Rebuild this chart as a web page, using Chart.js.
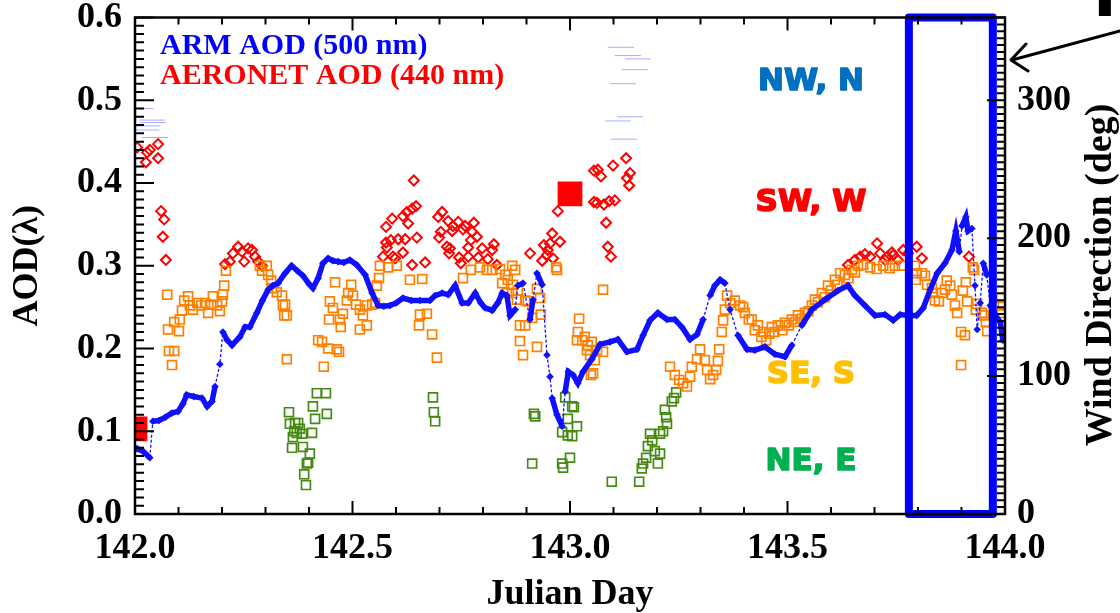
<!DOCTYPE html>
<html>
<head>
<meta charset="utf-8">
<script src="https://cdn.jsdelivr.net/npm/chart.js@4.4.1/dist/chart.umd.min.js"></script>
<style>
  html, body { margin: 0; padding: 0; background: #fff; }
  canvas { display: block; }
</style>
</head>
<body>
<canvas id="c" width="1120" height="613"></canvas>
<script>
// ---- data (Julian day / AOD) ----
const armDay = [142.005,142.018,142.034,142.041,142.055,142.070,142.085,142.099,142.110,142.119,142.135,142.154,142.166,142.177,142.184,142.195,142.202,142.212,142.223,142.241,142.253,142.264,142.280,142.293,142.306,142.317,142.329,142.345,142.360,142.373,142.386,142.400,142.409,142.421,142.432,142.444,142.455,142.467,142.480,142.494,142.510,142.529,142.545,142.559,142.572,142.586,142.600,142.616,142.635,142.655,142.678,142.690,142.706,142.720,142.736,142.752,142.766,142.782,142.795,142.805,142.821,142.834,142.844,142.855,142.862,142.874,142.880,142.892,142.908,142.915,142.924,142.936,142.947,142.954,142.959,142.970,142.982,142.989,142.996,143.007,143.018,143.030,143.050,143.069,143.092,143.110,143.131,143.154,143.168,143.184,143.202,143.223,143.241,143.257,143.276,143.292,143.306,143.322,143.333,143.345,143.356,143.368,143.386,143.407,143.425,143.448,143.471,143.494,143.510,143.533,143.556,143.586,143.616,143.639,143.655,143.678,143.701,143.724,143.743,143.759,143.777,143.797,143.812,143.828,143.844,143.862,143.878,143.887,143.895,143.901,143.910,143.915,143.924,143.931,143.936,143.943,143.950,143.958,143.966,143.978,143.989,143.995];
const armAOD = [0.079,0.076,0.068,0.112,0.113,0.117,0.122,0.124,0.133,0.144,0.142,0.140,0.130,0.136,0.154,0.181,0.220,0.210,0.204,0.214,0.226,0.226,0.243,0.258,0.271,0.276,0.279,0.291,0.300,0.294,0.288,0.278,0.273,0.285,0.303,0.309,0.306,0.305,0.304,0.307,0.301,0.289,0.267,0.252,0.251,0.252,0.255,0.261,0.258,0.258,0.258,0.264,0.267,0.265,0.276,0.255,0.255,0.267,0.255,0.249,0.246,0.255,0.267,0.264,0.240,0.247,0.276,0.279,0.235,0.259,0.291,0.277,0.192,0.166,0.140,0.120,0.106,0.148,0.172,0.168,0.158,0.172,0.187,0.205,0.208,0.211,0.196,0.199,0.216,0.234,0.243,0.235,0.235,0.226,0.211,0.217,0.235,0.264,0.276,0.283,0.279,0.247,0.216,0.199,0.198,0.202,0.193,0.190,0.204,0.228,0.247,0.259,0.270,0.276,0.264,0.252,0.240,0.241,0.234,0.241,0.240,0.240,0.249,0.271,0.291,0.303,0.319,0.342,0.317,0.348,0.359,0.342,0.345,0.276,0.223,0.255,0.303,0.289,0.252,0.240,0.232,0.210];

// faint light-blue dashes near the top
const faintDay = [142.012,142.039,142.041,142.028,142.026,142.046,143.117,143.133,143.156,143.149,143.122,143.138,143.110,143.124];
const faintAOD = [0.490,0.476,0.473,0.469,0.464,0.455,0.564,0.554,0.550,0.537,0.520,0.480,0.475,0.453];

const aeronetDay = [142.005,142.028,142.034,142.025,142.053,142.053,142.060,142.067,142.064,142.071,
  142.207,142.218,142.225,142.237,142.246,142.251,142.260,142.269,142.276,142.283,142.292,
  142.641,142.646,142.637,142.625,142.616,142.628,142.591,142.577,142.588,142.577,142.579,142.605,142.621,142.648,142.616,142.593,142.570,142.598,142.637,142.667,142.697,142.699,
  142.706,142.720,142.731,142.743,142.759,142.779,142.703,142.729,142.754,142.775,142.786,142.772,142.766,142.717,142.724,142.722,142.745,142.766,142.749,142.789,142.798,142.811,142.825,142.821,142.832,
  142.908,142.936,142.940,142.949,142.954,142.947,142.959,142.977,142.961,142.972,
  143.055,143.055,143.064,143.071,143.099,143.129,143.138,143.131,143.136,143.062,143.078,143.090,143.103,143.083,143.087,143.094,
  143.639,143.655,143.667,143.678,143.690,143.706,143.713,143.724,143.740,143.754,143.766,143.729,143.743,143.777,143.797,143.809,143.917];
const aeronetAOD = [0.443,0.437,0.440,0.425,0.447,0.430,0.366,0.356,0.335,0.307,
  0.302,0.305,0.315,0.323,0.317,0.305,0.321,0.319,0.311,0.305,0.300,
  0.403,0.372,0.369,0.365,0.360,0.351,0.357,0.347,0.331,0.328,0.322,0.332,0.332,0.334,0.316,0.311,0.311,0.309,0.301,0.304,0.359,0.334,
  0.365,0.354,0.348,0.353,0.348,0.352,0.341,0.342,0.344,0.341,0.335,0.331,0.322,0.323,0.321,0.315,0.310,0.311,0.303,0.310,0.321,0.308,0.326,0.319,0.301,
  0.315,0.306,0.325,0.319,0.327,0.313,0.339,0.329,0.309,0.366,
  0.415,0.377,0.416,0.408,0.421,0.430,0.412,0.406,0.397,0.376,0.374,0.378,0.379,0.352,0.323,0.311,
  0.301,0.307,0.311,0.314,0.311,0.327,0.315,0.307,0.316,0.307,0.319,0.311,0.313,0.315,0.323,0.309,0.311];

// large filled red squares
const aeronetMeanDay = [142.0, 143.0];
const aeronetMeanAOD = [0.103, 0.387];

// AOD coloured by wind sector
const seDay = [142.074,142.076,142.078,142.090,142.085,142.090,142.101,142.103,142.108,142.113,142.122,142.126,142.133,142.143,142.152,142.161,142.168,142.175,142.179,142.189,142.195,142.200,142.202,142.205,142.209,
  142.287,142.303,142.292,142.306,142.313,142.315,142.326,142.338,142.340,142.343,142.345,142.349,142.349,
  142.460,142.448,142.446,142.455,142.471,142.473,142.478,142.487,142.490,142.497,142.501,142.508,142.517,142.517,142.524,142.533,142.533,142.545,142.552,142.556,142.561,142.563,142.582,142.602,
  142.421,142.430,142.444,142.464,142.469,142.434,142.632,142.660,142.655,142.671,142.653,142.683,142.694,
  142.754,142.772,142.793,142.809,142.821,142.839,142.851,142.867,142.874,142.844,142.857,142.869,142.855,142.867,142.880,142.878,142.897,142.903,142.924,142.931,142.885,142.897,142.913,142.933,142.885,142.892,142.924,142.968,142.970,
  143.021,143.018,143.028,143.016,143.034,143.041,143.039,143.046,143.048,143.076,143.050,143.062,143.076,143.057,143.053,
  143.230,143.241,143.251,143.260,143.269,143.276,143.280,143.292,143.299,143.310,143.315,143.322,143.329,143.336,143.340,143.343,143.349,143.352,143.356,143.361,143.368,143.379,143.391,143.402,143.411,143.398,
  143.418,143.432,143.444,143.451,143.464,143.478,143.494,143.510,143.524,143.540,143.556,143.563,143.579,143.593,143.609,143.621,143.632,143.648,143.662,143.674,143.690,143.747,143.763,
  143.425,143.440,143.458,143.470,143.488,143.503,143.518,143.533,143.548,143.570,143.586,143.600,143.615,143.640,143.655,143.705,143.720,143.735,
  143.793,143.797,143.795,143.809,143.816,143.821,143.832,143.834,143.839,143.848,143.855,143.862,143.866,143.874,143.878,143.885,143.890,143.903,143.910,143.913,143.899,143.908,143.899,143.926,143.929,143.936,143.933,143.947,143.952,143.956,143.959,143.991,143.995,143.993];
const seAOD = [0.265,0.223,0.197,0.197,0.180,0.232,0.221,0.235,0.246,0.258,0.263,0.252,0.247,0.255,0.252,0.255,0.243,0.253,0.263,0.252,0.245,0.257,0.265,0.276,0.294,
  0.300,0.300,0.294,0.289,0.282,0.273,0.268,0.264,0.252,0.240,0.253,0.240,0.187,
  0.280,0.257,0.235,0.249,0.235,0.226,0.242,0.258,0.267,0.277,0.264,0.253,0.247,0.223,0.240,0.228,0.252,0.253,0.255,0.276,0.285,0.300,0.298,0.300,
  0.210,0.208,0.200,0.199,0.196,0.178,0.283,0.284,0.241,0.242,0.228,0.217,0.189,
  0.285,0.295,0.298,0.295,0.295,0.296,0.289,0.300,0.295,0.279,0.283,0.277,0.267,0.267,0.270,0.259,0.258,0.257,0.272,0.261,0.228,0.228,0.237,0.241,0.209,0.192,0.202,0.298,0.295,
  0.236,0.220,0.210,0.210,0.214,0.204,0.198,0.192,0.168,0.271,0.208,0.198,0.196,0.186,0.170,
  0.178,0.168,0.162,0.158,0.154,0.166,0.178,0.187,0.199,0.186,0.174,0.163,0.168,0.174,0.185,0.199,0.220,0.234,0.247,0.264,0.255,0.258,0.252,0.243,0.235,0.250,
  0.235,0.228,0.220,0.210,0.226,0.228,0.231,0.235,0.240,0.243,0.252,0.259,0.267,0.276,0.283,0.291,0.289,0.295,0.300,0.301,0.298,0.300,0.300,
  0.222,0.214,0.218,0.220,0.222,0.228,0.232,0.236,0.245,0.256,0.262,0.270,0.277,0.285,0.292,0.296,0.300,0.297,
  0.300,0.291,0.283,0.291,0.288,0.277,0.273,0.267,0.258,0.257,0.267,0.271,0.282,0.276,0.265,0.252,0.243,0.270,0.280,0.257,0.220,0.216,0.180,0.298,0.295,0.254,0.247,0.243,0.240,0.232,0.221,0.261,0.252,0.243];

const neDay = [142.354,142.356,142.368,142.375,142.366,142.379,142.372,142.363,142.384,142.407,142.361,142.386,142.402,142.398,142.395,142.389,142.393,142.409,142.414,142.418,142.439,142.441,
  142.685,142.687,142.690,142.917,142.920,142.913,142.982,142.989,142.995,143.005,143.009,143.016,142.995,143.005,143.000,142.982,142.984,
  143.096,143.159,143.165,143.168,143.175,143.179,143.184,143.189,143.195,143.202,143.207,143.207,143.214,143.223,143.221,143.218,143.234,143.239,143.244];
const neAOD = [0.123,0.109,0.110,0.110,0.100,0.103,0.098,0.093,0.097,0.098,0.080,0.081,0.073,0.062,0.061,0.048,0.035,0.130,0.115,0.146,0.146,0.121,
  0.141,0.123,0.112,0.121,0.118,0.061,0.099,0.141,0.115,0.130,0.129,0.106,0.095,0.094,0.068,0.061,0.056,
  0.039,0.039,0.055,0.061,0.068,0.082,0.097,0.089,0.076,0.061,0.073,0.097,0.100,0.109,0.117,0.126,0.136,0.140,0.147];

// highlighted period (blue box)
const boxDay = [143.779, 143.972];
const boxAOD = [0.0, 0.6];

// axis ticks
const dayTicks = [142.0, 142.5, 143.0, 143.5, 144.0];
const aodTicks = [0.0, 0.1, 0.2, 0.3, 0.4, 0.5, 0.6];
const windTicks = [0, 100, 200, 300];
const sectorLabels = ['NW, N', 'SW, W', 'SE, S', 'NE, E'];

const zip = (xs, ys) => xs.map((x, i) => ({ x: x, y: ys[i] }));

const serif = "'Liberation Serif', 'Times New Roman', serif";
const tickFont = { family: serif, size: 36, weight: 'bold', lineHeight: 1 };

const gapPx = c => Math.hypot(c.p1.x - c.p0.x, c.p1.y - c.p0.y);

const decor = {
  id: 'decor',
  afterDraw(chart) {
    const { ctx, chartArea: a, scales } = chart;
    const xs = scales.x, ys = scales.y, y2 = scales.y2;
    ctx.save();
    ctx.strokeStyle = '#000';
    ctx.lineWidth = 2.5;
    ctx.strokeRect(a.left, a.top, a.right - a.left, a.bottom - a.top);

    ctx.lineWidth = 2;
    ctx.beginPath();
    // x minor ticks every 0.1 day, inward on bottom and top
    for (let i = 0; i <= 20; i++) {
      const px = xs.getPixelForValue(142 + i * 0.1);
      const len = i % 5 === 0 ? 13 : 7;
      ctx.moveTo(px, a.bottom); ctx.lineTo(px, a.bottom - len);
      ctx.moveTo(px, a.top); ctx.lineTo(px, a.top + len);
    }
    // left AOD ticks every 0.01
    for (let i = 0; i <= 60; i++) {
      const py = ys.getPixelForValue(i * 0.01);
      const len = i % 10 === 0 ? 19 : 9;
      ctx.moveTo(a.left, py); ctx.lineTo(a.left + len, py);
    }
    // right wind-direction ticks every 5 deg
    for (let d = 0; d <= 360; d += 5) {
      const py = y2.getPixelForValue(d);
      const len = d % 100 === 0 ? 18 : 8;
      ctx.moveTo(a.right, py); ctx.lineTo(a.right - len, py);
    }
    ctx.stroke();

    // legend text
    ctx.textBaseline = 'middle';
    ctx.textAlign = 'left';
    ctx.font = "bold 30px " + serif;
    ctx.fillStyle = '#0000ff';
    ctx.fillText('ARM AOD (500 nm)', 160, 46);
    ctx.fillStyle = '#ff0000';
    ctx.fillText('AERONET AOD (440 nm)', 160, 76);

    // wind sector labels (heavy sans)
    ctx.textAlign = 'center';
    ctx.font = "bold 31px 'DejaVu Sans', sans-serif";
    ctx.lineWidth = 1.6;
    ctx.lineJoin = 'round';
    const sectorColors = ['#0070c0', '#ff0000', '#ffc000', '#00b050'];
    const sectorY = [82, 203, 375, 462];
    sectorLabels.forEach((t, i) => {
      ctx.fillStyle = sectorColors[i];
      ctx.strokeStyle = sectorColors[i];
      ctx.fillText(t, 811, sectorY[i]);
      ctx.strokeText(t, 811, sectorY[i]);
    });

    // right axis title, reading upward
    ctx.save();
    ctx.translate(1101, 275);
    ctx.rotate(-Math.PI / 2);
    ctx.fillStyle = '#000';
    ctx.font = "bold 38px " + serif;
    ctx.fillText('Wind Direction (deg)', 0, 0);
    ctx.restore();

    // arrow and clipped letter at the top right
    ctx.strokeStyle = '#000';
    ctx.lineWidth = 3;
    ctx.lineCap = 'round';
    ctx.beginPath();
    ctx.moveTo(1120, 31); ctx.lineTo(1012, 60);
    ctx.moveTo(1026, 44); ctx.lineTo(1011, 60); ctx.lineTo(1028, 71);
    ctx.stroke();
    ctx.fillStyle = '#000';
    ctx.textAlign = 'left';
    ctx.textBaseline = 'alphabetic';
    ctx.font = "bold 64px 'DejaVu Sans', sans-serif";
    ctx.fillText('F', 1093, 16);
    ctx.restore();
  }
};

new Chart(document.getElementById('c'), {
  type: 'scatter',
  data: {
    datasets: [
      {
        type: 'line',
        label: 'box',
        data: [
          { x: boxDay[0], y: boxAOD[0] }, { x: boxDay[0], y: boxAOD[1] },
          { x: boxDay[1], y: boxAOD[1] }, { x: boxDay[1], y: boxAOD[0] },
          { x: boxDay[0], y: boxAOD[0] }
        ],
        borderColor: '#0000ff',
        borderWidth: 8,
        borderJoinStyle: 'round',
        borderCapStyle: 'round',
        pointRadius: 0,
        tension: 0,
        fill: false,
        clip: false
      },
      {
        label: 'AERONET mean',
        data: zip(aeronetMeanDay, aeronetMeanAOD),
        pointStyle: 'rect',
        pointRadius: 17.5,
        backgroundColor: '#ff0000',
        borderWidth: 0
      },
      {
        type: 'line',
        label: 'ARM AOD (500 nm)',
        data: zip(armDay, armAOD),
        borderColor: '#1010ff',
        borderWidth: 5.5,
        backgroundColor: '#1010ff',
        pointStyle: 'rectRot',
        pointRadius: 3.8,
        pointBorderWidth: 0,
        tension: 0,
        fill: false,
        segment: {
          borderWidth: c => gapPx(c) > 21 ? 1.3 : 5.5,
          borderDash: c => gapPx(c) > 21 ? [3, 2] : undefined
        }
      },
      {
        label: 'SE, S',
        data: zip(seDay, seAOD),
        pointStyle: 'rect',
        pointRadius: 6.3,
        borderColor: '#ff8000',
        backgroundColor: 'rgba(0,0,0,0)',
        borderWidth: 1.7
      },
      {
        label: 'NE, E',
        data: zip(neDay, neAOD),
        pointStyle: 'rect',
        pointRadius: 6.3,
        borderColor: '#468a14',
        backgroundColor: 'rgba(0,0,0,0)',
        borderWidth: 1.7
      },
      {
        label: 'AERONET AOD (440 nm)',
        data: zip(aeronetDay, aeronetAOD),
        pointStyle: 'rectRot',
        pointRadius: 5,
        borderColor: '#ff0000',
        backgroundColor: 'rgba(0,0,0,0)',
        borderWidth: 2
      },
      {
        label: 'faint',
        data: zip(faintDay, faintAOD),
        pointStyle: 'line',
        pointRadius: 13,
        borderColor: 'rgba(90,110,255,0.55)',
        borderWidth: 1
      }
    ]
  },
  options: {
    responsive: false,
    animation: false,
    devicePixelRatio: 1,
    layout: { padding: { top: 11, left: 0, right: 0, bottom: 0 } },
    plugins: { legend: { display: false }, tooltip: { enabled: false } },
    scales: {
      x: {
        type: 'linear',
        position: 'bottom',
        min: dayTicks[0],
        max: dayTicks[dayTicks.length - 1],
        grid: { display: false, drawTicks: false },
        border: { display: false },
        afterBuildTicks: s => { s.ticks = dayTicks.map(v => ({ value: v })); },
        ticks: {
          callback: v => Number(v).toFixed(1),
          font: tickFont, color: '#000', padding: 17,
          maxRotation: 0, autoSkip: false
        },
        title: { display: true, text: 'Julian Day', color: '#000', font: tickFont, padding: 0 },
        afterFit: s => { s.height = 99; s.paddingLeft = 0; s.paddingRight = 0; }
      },
      y: {
        type: 'linear',
        position: 'left',
        min: aodTicks[0],
        max: aodTicks[aodTicks.length - 1],
        grid: { display: false, drawTicks: false },
        border: { display: false },
        afterBuildTicks: s => { s.ticks = aodTicks.map(v => ({ value: v })); },
        ticks: {
          callback: v => Number(v).toFixed(1),
          font: tickFont, color: '#000', padding: 13
        },
        title: { display: true, text: 'AOD(λ)', color: '#000', font: tickFont, padding: { top: 10, bottom: 0 } },
        afterFit: s => { s.width = 135; s.paddingTop = 0; s.paddingBottom = 0; }
      },
      y2: {
        type: 'linear',
        position: 'right',
        min: 0,
        max: 360,
        grid: { display: false, drawTicks: false },
        border: { display: false },
        afterBuildTicks: s => { s.ticks = windTicks.map(v => ({ value: v })); },
        ticks: { font: tickFont, color: '#000', padding: 12 },
        afterFit: s => { s.width = 115; s.paddingTop = 0; s.paddingBottom = 0; }
      }
    }
  },
  plugins: [decor]
});
</script>
</body>
</html>
